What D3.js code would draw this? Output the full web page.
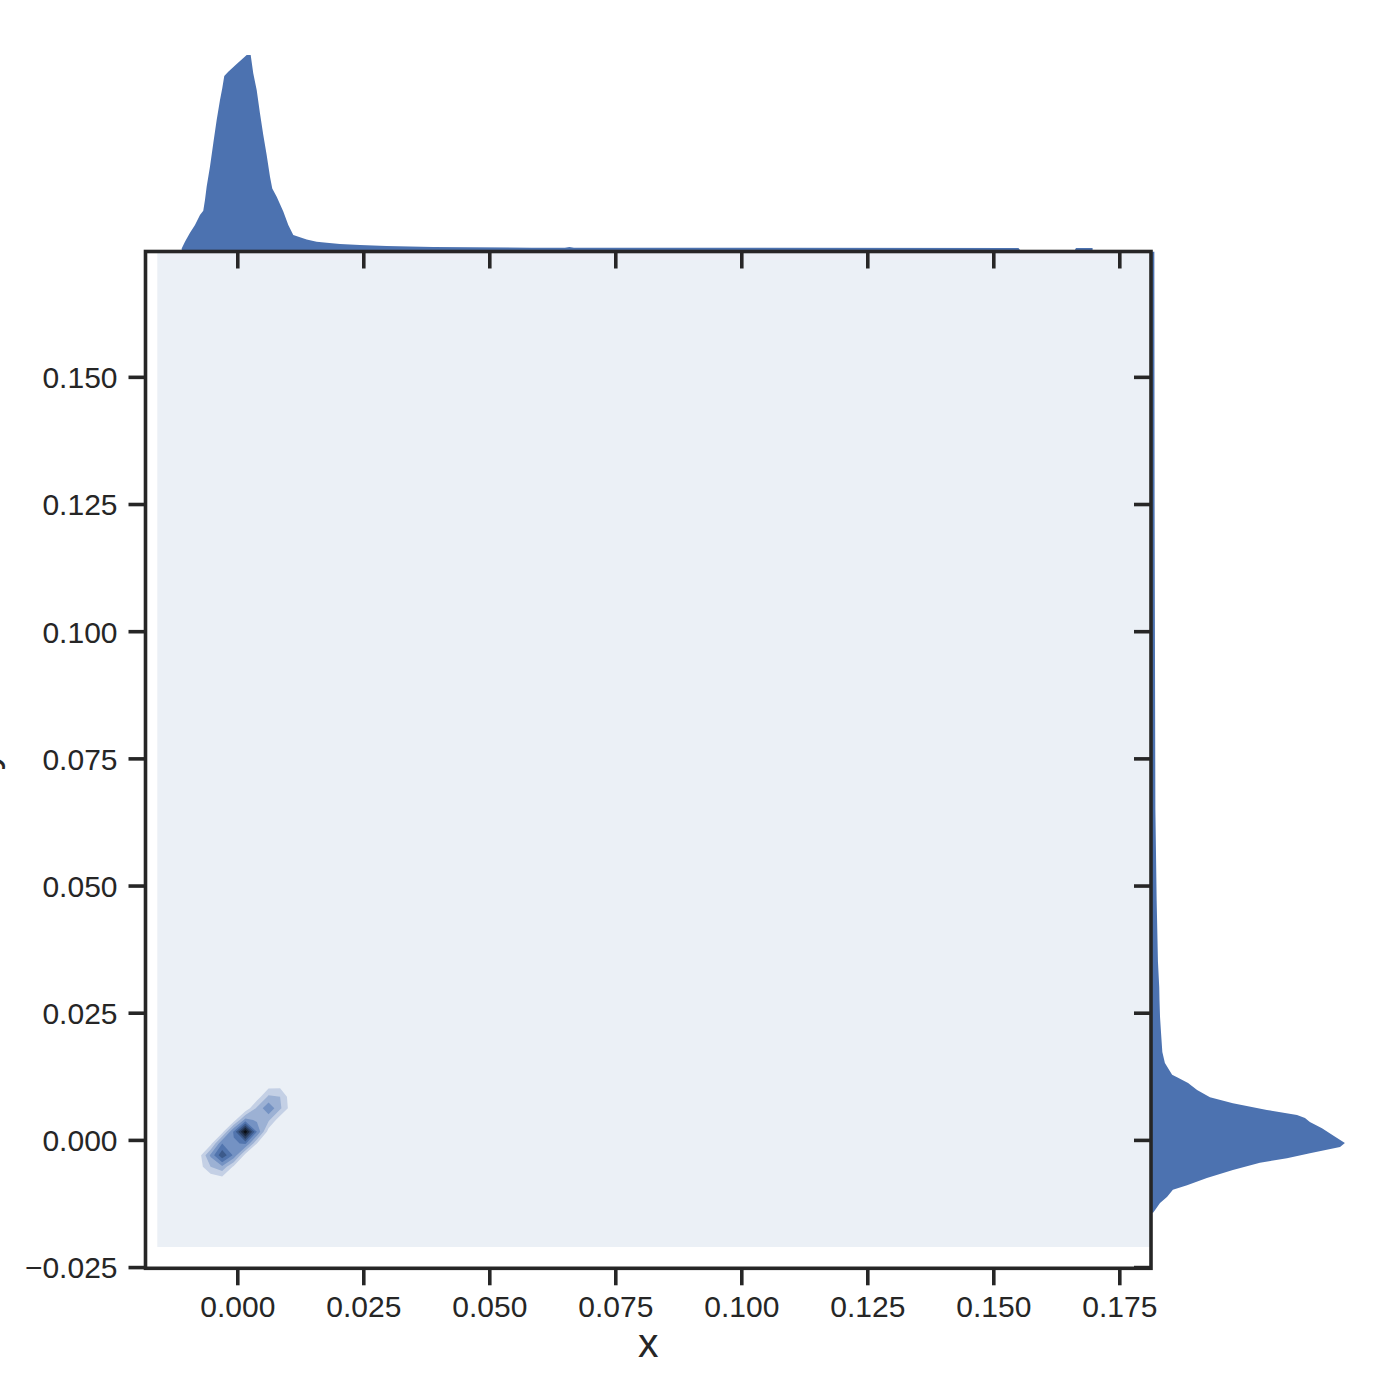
<!DOCTYPE html>
<html><head><meta charset="utf-8">
<script src="https://cdn.jsdelivr.net/npm/d3@7"></script>
<style>body{margin:0;background:#fff}</style>
</head><body>
<script>
// ---------- data ----------
const xTicks = [0, 0.025, 0.05, 0.075, 0.1, 0.125, 0.15, 0.175];
const yTicks = [-0.025, 0, 0.025, 0.05, 0.075, 0.1, 0.125, 0.15];
const xLabel = "x";
const yLabel = "y";

// top marginal KDE (x value, density)
const topX = [-0.01103,-0.01038,-0.00938,-0.00839,-0.0074,-0.00675,-0.00641,-0.00607,-0.00542,-0.00476,-0.00409,-0.00343,-0.00298,-0.00258,-0.00179,-0.00012,0.00187,0.00266,0.00317,0.00385,0.0045,0.00516,0.00583,0.00649,0.00694,0.00782,0.00913,0.01012,0.01111,0.01244,0.01377,0.01575,0.01774,0.02038,0.02435,0.02964,0.03889,0.05841,0.0650,0.0659,0.0668,0.1550,0.1553,0.1662,0.1664,0.1697];
const topD = [1.2,3.8,7.3,10.3,14.2,15.8,20.0,25.2,32.9,42.0,51.1,58.8,63.4,68.2,69.8,72.8,76.3,76.3,69.2,62.7,53.7,45.2,37.5,29.0,24.5,21.3,15.5,10.3,6.4,5.5,4.7,3.8,3.4,2.9,2.5,2.1,1.75,1.5,1.45,1.75,1.45,1.4,0.6,0.6,1.4,1.4];

// right marginal KDE (y value, density)
const rightY = [0.1746,0.125,0.065,0.047,0.035,0.030,0.0275,0.0242,0.0210,0.0173,0.0151,0.0128,0.0122,0.0112,0.0098,0.0084,0.0072,0.0059,0.0049,0.0043,0.0035,0.0023,0.0006,-0.0006,-0.0014,-0.0026,-0.0036,-0.0045,-0.0059,-0.0075,-0.0089,-0.0098,-0.0112,-0.0124,-0.0138,-0.0143];
const rightD = [1.3,1.4,1.7,2.2,2.7,3.2,3.3,3.5,3.9,4.4,5.4,8.2,10.5,14.4,17.9,22.9,31.8,45.0,56.7,59.8,61.7,66.4,71.5,75.3,73.4,61.7,52.8,42.3,31.8,21.7,14.0,8.5,6.2,3.5,1.6,0.8];

// joint KDE: extent of the evaluation grid (lowest level fill)
const gridXExtent = [-0.01587, 0.26];
const gridYExtent = [-0.02106, 0.26];
// joint KDE: local density grid around the mass (rows = y ascending)
const blobX = [-0.0099,-0.0076,-0.0053,-0.0030,-0.0007,0.0016,0.0039,0.0062,0.0085,0.0108,0.0131];
const blobY = [-0.0099,-0.0076,-0.0053,-0.0030,-0.0007,0.0016,0.0039,0.0062,0.0085,0.0108,0.0131];
const blobZ = [
  [0,0,0,0,0,0,0,0,0,0,0],
  [0,0,0.3,0.6,0.2,0,0,0,0,0,0],
  [0,0.5,2.0,2.8,0.8,0,0,0,0,0,0],
  [0,0.5,3.2,5.8,3.8,0.6,0,0,0,0,0],
  [0,0,0.6,4.0,3.8,4.2,1.0,0,0,0,0],
  [0,0,0,0.6,4.2,8.8,4.0,0.5,0,0,0],
  [0,0,0,0,0.5,3.4,2.8,2.2,0.3,0,0],
  [0,0,0,0,0,0.2,2.2,3.8,2.2,0.4,0],
  [0,0,0,0,0,0,0.4,2.2,2.0,0.3,0],
  [0,0,0,0,0,0,0,0.5,0.6,0,0],
  [0,0,0,0,0,0,0,0,0,0,0]
];
const levels = [1,2,3,4,5,6,7,8];
const levelColors = ["#ebf0f6","#c4d0e5","#9cb1d4","#7492c3","#5275ae","#3c5a8b","#2b4063","#1a273b","#090d14"];
const margColor = "#4c72b0";
const ink = "#262626";

// ---------- layout ----------
const W = 1400, H = 1400;
const L = 145.5, R = 1151, T = 251.5, B = 1268.3;
const svg = d3.select("body").append("svg").attr("width", W).attr("height", H)
  .style("font-family", "'Liberation Sans', Arial, Helvetica, sans-serif");

const x = d3.scaleLinear().domain([-0.01821, 0.18129]).range([L, R]);
const y = d3.scaleLinear().domain([-0.02524, 0.17464]).range([B, T]);
const mTop = d3.scaleLinear().domain([0, 80]).range([T, T - 206]);
const mRight = d3.scaleLinear().domain([0, 80]).range([R, R + 206]);

svg.append("defs").append("clipPath").attr("id", "clip")
  .append("rect").attr("x", L).attr("y", T).attr("width", R - L).attr("height", B - T);

const joint = svg.append("g").attr("clip-path", "url(#clip)");
// lowest band fill over whole grid
joint.append("rect")
  .attr("x", x(gridXExtent[0])).attr("y", y(gridYExtent[1]))
  .attr("width", x(gridXExtent[1]) - x(gridXExtent[0]))
  .attr("height", y(gridYExtent[0]) - y(gridYExtent[1]))
  .attr("fill", levelColors[0]);

const n = blobX.length, m = blobY.length;
const values = blobZ.flat();
const cont = d3.contours().size([n, m]).thresholds(levels)(values);
const gx = d3.scaleLinear().domain([0.5, n - 0.5]).range([blobX[0], blobX[n - 1]]);
const gy = d3.scaleLinear().domain([0.5, m - 0.5]).range([blobY[0], blobY[m - 1]]);
const proj = d3.geoTransform({ point(px, py) { this.stream.point(x(gx(px)), y(gy(py))); } });
const path = d3.geoPath(proj);
joint.selectAll("path.lvl").data(cont).join("path").attr("class", "lvl")
  .attr("d", path).attr("fill", (d, i) => levelColors[i + 1]);

// marginals
const topData = topX.map((v, i) => [v, topD[i]]);
svg.append("path").datum(topData)
  .attr("d", d3.area().x(d => x(d[0])).y0(mTop(0)).y1(d => mTop(d[1])))
  .attr("fill", margColor);
const rightData = rightY.map((v, i) => [v, rightD[i]]);
svg.append("path").datum(rightData)
  .attr("d", d3.area().y(d => y(d[0])).x0(mRight(0)).x1(d => mRight(d[1])))
  .attr("fill", margColor);

// spines
svg.append("rect").attr("x", L).attr("y", T).attr("width", R - L).attr("height", B - T)
  .attr("fill", "none").attr("stroke", ink).attr("stroke-width", 3.6);

function styleAxis(g) {
  g.select(".domain").remove();
  g.selectAll(".tick line").attr("stroke", ink).attr("stroke-width", 3.6);
  g.selectAll(".tick text").attr("fill", ink).attr("font-size", 30);
}
const tickLen = 17;
svg.append("g").attr("transform", `translate(0,${B})`)
  .call(d3.axisBottom(x).tickValues(xTicks).tickSizeInner(tickLen).tickSizeOuter(0)
    .tickPadding(10.5).tickFormat(d3.format(".3f"))).call(styleAxis);
svg.append("g").attr("transform", `translate(${L},0)`)
  .call(d3.axisLeft(y).tickValues(yTicks).tickSizeInner(tickLen).tickSizeOuter(0)
    .tickPadding(11).tickFormat(d3.format(".3f"))).call(styleAxis)
  .selectAll(".tick text").attr("dy", "0.36em");
// marginal axes ticks (top: pointing down into joint, right: pointing left)
svg.append("g").attr("transform", `translate(0,${T})`)
  .call(d3.axisBottom(x).tickValues(xTicks).tickSizeInner(tickLen).tickSizeOuter(0).tickFormat(""))
  .call(styleAxis);
svg.append("g").attr("transform", `translate(${R},0)`)
  .call(d3.axisLeft(y).tickValues(yTicks).tickSizeInner(tickLen).tickSizeOuter(0).tickFormat(""))
  .call(styleAxis);

// axis labels
svg.append("text").attr("x", (L + R) / 2).attr("y", 1357).attr("text-anchor", "middle")
  .attr("font-size", 41).attr("fill", ink).text(xLabel);
svg.append("text").attr("transform", `translate(-3,${(T + B) / 2}) rotate(-90)`)
  .attr("text-anchor", "middle").attr("font-size", 41).attr("fill", ink).text(yLabel);
</script>
</body></html>
